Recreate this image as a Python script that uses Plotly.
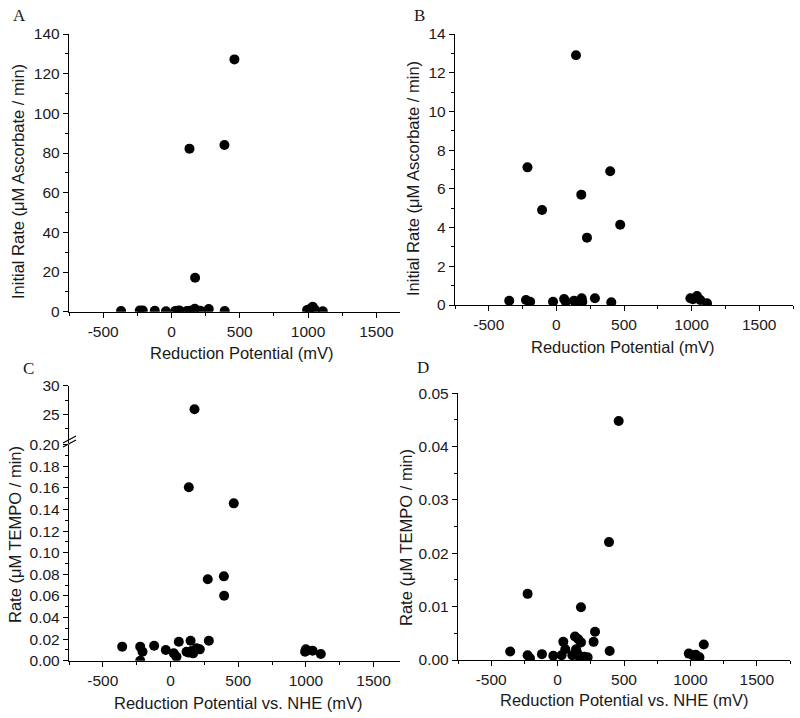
import plotly.graph_objects as go

W, H = 800, 718

# ---------------- data ----------------
# Panel A: initial rate (uM ascorbate / min) vs reduction potential (mV)
a_potential = [-369, -232, -210, -122, -40, 29, 45, 59, 114, 135, 171, 212, 273, 390,
               132, 388, 461, 173, 993, 1010, 1034, 1050, 1108]
a_rate = [0.3, 0.6, 0.6, 0.5, 0.2, 0.4, 0.5, 0.6, 0.4, 0.5, 1.5, 0.5, 1.3, 0.3,
          82.2, 84.0, 127.2, 17.1, 0.8, 1.2, 2.5, 1.0, 0.2]

# Panel B
b_potential = [145, -214, -106, 184, 398, 226, 472, -349, -225, -194, -25, 57, 69, 130,
               150, 187, 192, 285, 406, 991, 1010, 1040, 1064, 1114]
b_rate = [12.9, 7.11, 4.91, 5.70, 6.91, 3.48, 4.15, 0.22, 0.26, 0.17, 0.17, 0.31, 0.17, 0.22,
          0.17, 0.35, 0.17, 0.35, 0.14, 0.35, 0.30, 0.46, 0.26, 0.09]

# Panel C (lower segment, 0-0.2) and upper segment (20-30)
c_potential = [-357, -224, -207, -224, -121, -35, 24, 44, 61, 118, 135, 148, 155, 167, 192,
               216, 283, 994, 1000, 1049, 1110, 135, 467, 275, 394, 396]
c_rate = [0.013, 0.013, 0.0083, 0.000, 0.0139, 0.0099, 0.0068, 0.0037, 0.0176, 0.0083,
          0.0075, 0.0185, 0.0090, 0.0068, 0.0115, 0.0105, 0.0185, 0.0083, 0.0105, 0.0093,
          0.0062, 0.1606, 0.1457, 0.0754, 0.0781, 0.0602]
c_upper_potential = [177]
c_upper_rate = [25.9]

# Panel D
d_potential = [460, 387, -226, 176, 282, 271, 131, 156, 176, 43, 58, 139, -357, -226, -208,
               -118, -32, 30, 111, 164, 201, 226, 392, 988, 1018, 1040, 1068, 1101, 150]
d_rate = [0.0448, 0.0221, 0.0124, 0.0099, 0.0053, 0.0034, 0.0044, 0.0039, 0.0033, 0.0034,
          0.0020, 0.0020, 0.0016, 0.0009, 0.0003, 0.0011, 0.0008, 0.0009, 0.0009, 0.0006,
          0.0006, 0.0005, 0.0017, 0.0012, 0.0009, 0.0010, 0.0005, 0.0029, 0.0012]

panel_letters = ["A", "B", "C", "D"]
x_title_top = "Reduction Potential (mV)"
x_title_bottom = "Reduction Potential vs. NHE (mV)"
y_title_top = "Initial Rate (μM Ascorbate / min)"
y_title_bottom = "Rate (μM TEMPO / min)"

# ---------------- helpers ----------------
def px(x):
    return x / W

def py(y):
    return 1 - y / H

FONT = "Liberation Sans, Arial, sans-serif"
TXT = "#1a1a1a"
TICKFONT = dict(family=FONT, size=15.5, color=TXT)

def axis_style(**kw):
    d = dict(showline=True, linecolor="black", linewidth=1.4, ticks="outside",
             ticklen=5, tickwidth=1.4, tickcolor="black", showgrid=False,
             zeroline=False, tickfont=TICKFONT, mirror=False, automargin=False,
             minor=dict(ticks="outside", ticklen=3, tickwidth=1.2, tickcolor="black"))
    d.update(kw)
    return d

marker = dict(color="black", size=10, line=dict(width=0))

fig = go.Figure()
fig.add_trace(go.Scatter(x=a_potential, y=a_rate, mode="markers", marker=marker,
                         xaxis="x", yaxis="y", showlegend=False))
fig.add_trace(go.Scatter(x=b_potential, y=b_rate, mode="markers", marker=marker,
                         xaxis="x2", yaxis="y2", showlegend=False))
fig.add_trace(go.Scatter(x=c_potential, y=c_rate, mode="markers", marker=marker,
                         xaxis="x3", yaxis="y3", showlegend=False))
fig.add_trace(go.Scatter(x=c_upper_potential, y=c_upper_rate, mode="markers", marker=marker,
                         xaxis="x3", yaxis="y4", showlegend=False))
fig.add_trace(go.Scatter(x=d_potential, y=d_rate, mode="markers", marker=marker,
                         xaxis="x4", yaxis="y5", showlegend=False))

xt = dict(tickvals=[-500, 0, 500, 1000, 1500], ticktext=["-500", "0", "500", "1000", "1500"],
          minor_dtick=250, minor_tick0=-750)

fig.update_layout(
    template="none",
    width=W, height=H, margin=dict(l=0, r=0, t=0, b=0, pad=0, autoexpand=False),
    paper_bgcolor="white", plot_bgcolor="white",
    xaxis=axis_style(domain=[px(69), px(400)], range=[-750, 1673], anchor="y", **xt),
    yaxis=axis_style(domain=[py(311.7), py(34)], range=[0, 140], anchor="x",
                     dtick=20, minor_dtick=10),
    xaxis2=axis_style(domain=[px(455), px(793)], range=[-750, 1750], anchor="y2", **xt),
    yaxis2=axis_style(domain=[py(305), py(34)], range=[0, 14], anchor="x2",
                      dtick=2, minor_dtick=1),
    xaxis3=axis_style(domain=[px(69), px(400)], range=[-750, 1695], anchor="y3", **xt),
    yaxis3=axis_style(domain=[py(660.7), py(444.7)], range=[0, 0.2], anchor="x3",
                      dtick=0.02, tickformat=".2f", minor_dtick=0.01),
    yaxis4=axis_style(domain=[py(443), py(385.7)], range=[20, 30], anchor="x3",
                      tickvals=[25, 30], minor=dict(ticks="outside", ticklen=3, tickwidth=1.2,
                                                    tickcolor="black", tickvals=[22.5, 27.5])),
    xaxis4=axis_style(domain=[px(458), px(790)], range=[-750, 1750], anchor="y5", **xt),
    yaxis5=axis_style(domain=[py(660), py(393.3)], range=[0, 0.05], anchor="x4",
                      dtick=0.01, tickformat=".2f", minor_dtick=0.005),
)

# axis break marks on panel C
for dy in (0, 4):
    fig.add_shape(type="line", xref="paper", yref="paper",
                  x0=px(63), y0=py(447 - dy), x1=px(76), y1=py(440 - dy),
                  line=dict(color="black", width=1.2))

ann = []
# panel letters
for letter, (x, y) in zip(panel_letters, [(19, 15), (419, 15), (28, 368), (423, 367)]):
    ann.append(dict(text=letter, x=px(x), y=py(y), xref="paper", yref="paper",
                    showarrow=False, xanchor="center", yanchor="middle",
                    font=dict(family="Liberation Serif, Times New Roman, serif", size=17, color=TXT)))
# x titles
for text, (x, y) in [(x_title_top, (241, 353)), (x_title_top, (622, 347)),
                     (x_title_bottom, (238, 703)), (x_title_bottom, (624, 700))]:
    ann.append(dict(text=text, x=px(x), y=py(y), xref="paper", yref="paper",
                    showarrow=False, xanchor="center", yanchor="middle",
                    font=dict(family=FONT, size=16.5, color=TXT)))
# y titles
for text, (x, y) in [(y_title_top, (18, 182)), (y_title_top, (413, 179)),
                     (y_title_bottom, (15, 535)), (y_title_bottom, (406, 537))]:
    ann.append(dict(text=text, x=px(x), y=py(y), xref="paper", yref="paper",
                    showarrow=False, xanchor="center", yanchor="middle", textangle=-90,
                    font=dict(family=FONT, size=16.5, color=TXT)))
fig.update_layout(annotations=ann)

fig.write_html("out.html", config={"displayModeBar": False},
               post_script="document.body.style.margin='0';")
